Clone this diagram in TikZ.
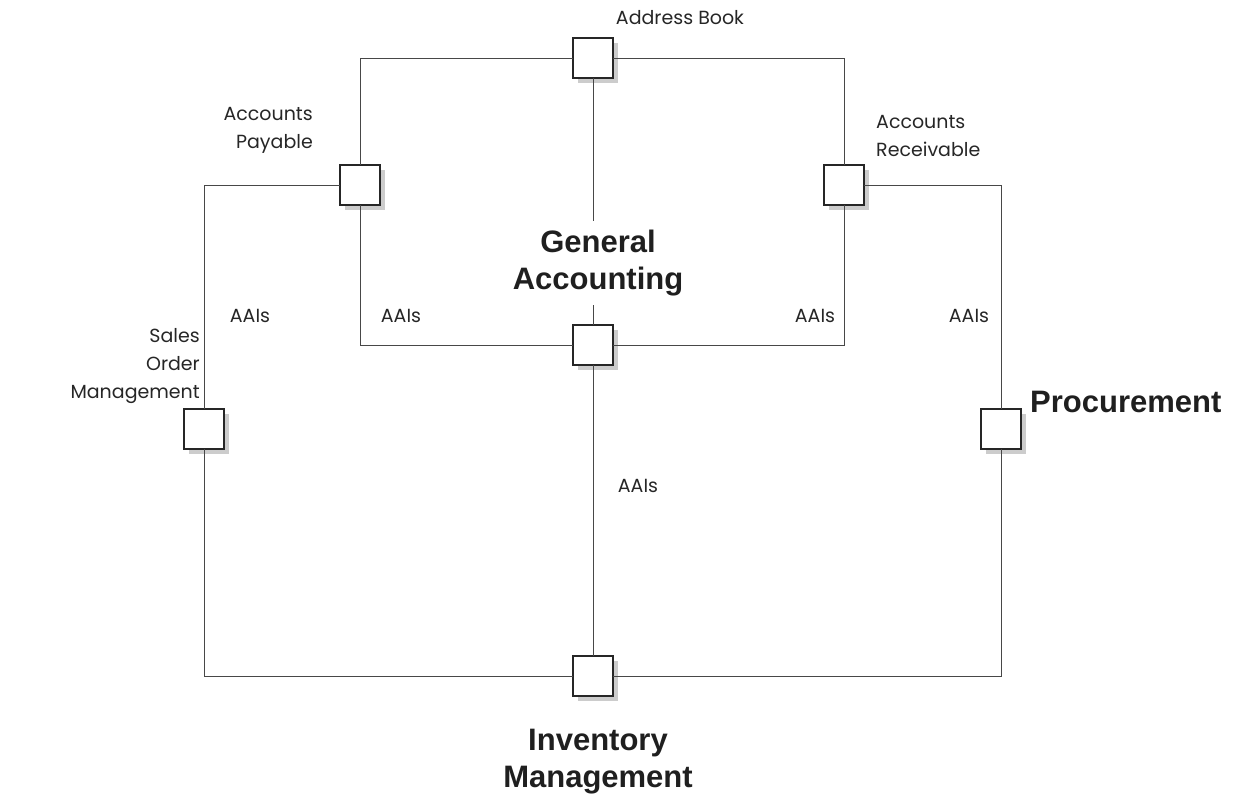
\documentclass[tikz,border=0pt]{standalone}
\usepackage{fontspec}
\setmainfont{Poppins}
\newfontfamily\headfont{Liberation Sans}
\usetikzlibrary{shadows}

\tikzset{
  modbox/.style={draw=black!85, line width=1.3pt, fill=white, minimum size=40pt,
    inner sep=0pt, outer sep=0pt,
    drop shadow={shadow xshift=5pt, shadow yshift=-5pt, fill=black!20, opacity=1}},
  link/.style={draw=black!72, line width=0.9pt},
  small/.style={font=\fontsize{19}{28}\selectfont, text=black!85, inner sep=0pt},
  big/.style={font=\headfont\bfseries\fontsize{31}{37}\selectfont, text=black!88, inner sep=0pt, align=center},
}

\begin{document}
\begin{tikzpicture}[x=1pt, y=-1pt]
  \useasboundingbox (0,0) rectangle (1234,793);

  % module boxes
  \node[modbox] (ab)  at (593,58)  {};
  \node[modbox] (ap)  at (360,185) {};
  \node[modbox] (ar)  at (844,185) {};
  \node[modbox] (gab) at (593,345) {};
  \node[modbox] (so)  at (204,429) {};
  \node[modbox] (pr)  at (1001,429) {};
  \node[modbox] (inv) at (593,676) {};

  % module names
  \node[big, minimum height=84pt] (gat) at (598,263) {General\\Accounting};
  \node[big] (invt) at (598,762) {Inventory\\Management};
  \node[big, anchor=west] (prt) at (1030,402) {Procurement};
  \node[small] (abt) at (680,18) {Address Book};
  \node[small, align=right, anchor=east] (apt) at (313,130) {Accounts\\Payable};
  \node[small, align=left, anchor=west] (art) at (876,136) {Accounts\\Receivable};
  \node[small, align=right, anchor=east] (sot) at (200,366) {Sales\\Order\\Management};

  % AAI labels
  \node[small] (aai1) at (250,316) {AAIs};
  \node[small] (aai2) at (401,316) {AAIs};
  \node[small] (aai3) at (815,316) {AAIs};
  \node[small] (aai4) at (969,316) {AAIs};
  \node[small] (aai5) at (638,486) {AAIs};

  % inner ring around General Accounting
  \draw[link] (ap.north) |- (ab.west);
  \draw[link] (ab.east) -| (ar.north);
  \draw[link] (ap.south) |- (gab.west);
  \draw[link] (gab.east) -| (ar.south);

  % central spine, interrupted by the General Accounting title
  \draw[link] (ab.south) -- (ab.south |- gat.north);
  \draw[link] (gab.north |- gat.south) -- (gab.north);
  \draw[link] (gab.south) -- (inv.north);

  % outer ring
  \draw[link] (ap.west) -| (so.north);
  \draw[link] (so.south) |- (inv.west);
  \draw[link] (inv.east) -| (pr.south);
  \draw[link] (pr.north) |- (ar.east);
\end{tikzpicture}
\end{document}
